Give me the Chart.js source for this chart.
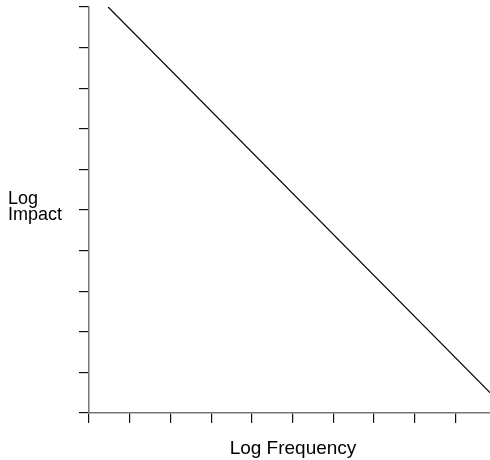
<!DOCTYPE html>
<html>
<head>
<meta charset="utf-8">
<script src="https://cdn.jsdelivr.net/npm/chart.js@4/dist/chart.umd.min.js"></script>
<style>
  html, body { margin: 0; padding: 0; background: #fff; }
  #wrap { position: relative; width: 490px; height: 460px; }
</style>
</head>
<body>
<div id="wrap"><canvas id="chart" width="490" height="460"></canvas></div>
<script>
"use strict";

// Daten (in Achseneinheiten, 1 Einheit = 1 Tickabstand)
const logFrequency = [0.47, 9.85];
const logImpact = [10.0, 0.5];
const xTicks = [0, 1, 2, 3, 4, 5, 6, 7, 8, 9];
const yTicks = [0, 1, 2, 3, 4, 5, 6, 7, 8, 9, 10];
const xLabel = "Log Frequency";
const yLabel = ["Log", "Impact"];

const points = logFrequency.map((x, i) => ({ x, y: logImpact[i] }));

// Achsentitel horizontal zeichnen
const labelPlugin = {
  id: "axisLabels",
  afterDraw(chart) {
    const { ctx } = chart;
    ctx.save();
    ctx.fillStyle = "#000";
    ctx.textBaseline = "alphabetic";
    ctx.textAlign = "left";
    ctx.font = "18px 'Liberation Sans', Arial, sans-serif";
    ctx.fillText(yLabel[0], 8, 204);
    ctx.fillText(yLabel[1], 8, 220);
    ctx.textAlign = "center";
    ctx.font = "19px 'Liberation Sans', Arial, sans-serif";
    ctx.fillText(xLabel, 293, 454);
    ctx.restore();
  },
};

new Chart(document.getElementById("chart"), {
  type: "scatter",
  data: {
    datasets: [{
      data: points,
      showLine: true,
      borderColor: "#000",
      borderWidth: 1.2,
      pointRadius: 0,
      fill: false,
    }],
  },
  options: {
    responsive: false,
    animation: false,
    layout: { padding: { top: 7, right: 0, left: 0, bottom: 0 } },
    plugins: { legend: { display: false }, tooltip: { enabled: false } },
    scales: {
      x: {
        type: "linear",
        min: 0,
        max: 9.85,
        afterBuildTicks: (s) => { s.ticks = xTicks.map((v) => ({ value: v })); },
        afterFit: (s) => { s.height = 47; },
        ticks: { display: false },
        grid: { drawOnChartArea: false, drawTicks: true, tickLength: 10, color: "#111", lineWidth: 1.2 },
        border: { display: true, color: "#777", width: 1.5 },
      },
      y: {
        type: "linear",
        min: 0,
        max: 10,
        afterBuildTicks: (s) => { s.ticks = yTicks.map((v) => ({ value: v })); },
        afterFit: (s) => { s.width = 89; },
        ticks: { display: false },
        grid: { drawOnChartArea: false, drawTicks: true, tickLength: 10, color: "#111", lineWidth: 1.2 },
        border: { display: true, color: "#777", width: 1.5 },
      },
    },
  },
  plugins: [labelPlugin],
});
</script>
</body>
</html>
